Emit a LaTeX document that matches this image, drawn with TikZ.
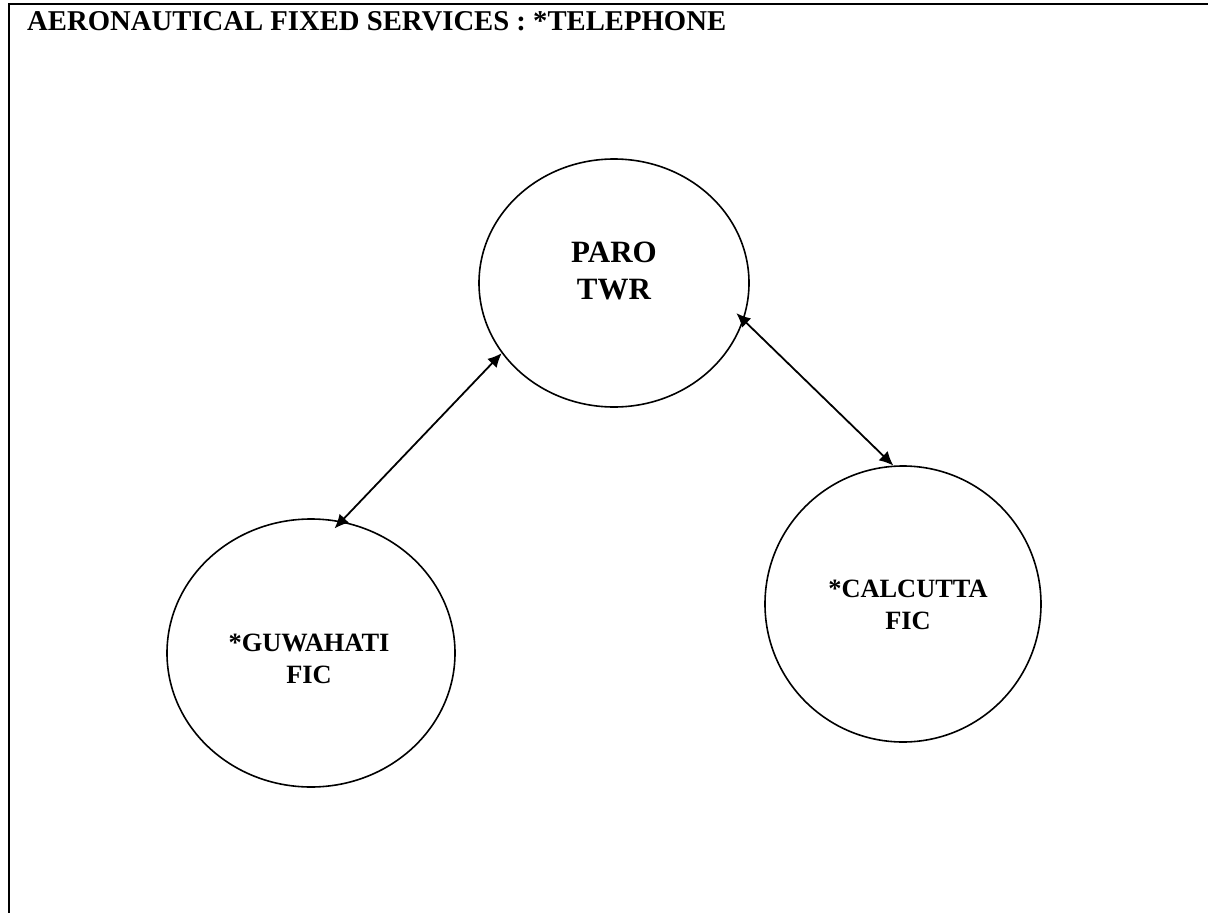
\documentclass[tikz,border=0pt]{standalone}
\usepackage{fontspec}
\setmainfont{Liberation Serif}
\usetikzlibrary{shapes.geometric,arrows.meta}
\begin{document}
\begin{tikzpicture}[x=1pt,y=-1pt,
  station/.style={draw,ellipse,line width=1.6pt,inner sep=0pt},
  lbl/.style={align=center,font=\bfseries\fontsize{26.4}{32}\selectfont},
  link/.style={{Latex[length=14pt,width=13pt]}-{Latex[length=14pt,width=13pt]},line width=1.8pt}]
\useasboundingbox (0,0) rectangle (1208,913);
\draw[line width=2pt] (9,913) -- (9,4) -- (1208,4);
\node[anchor=base west,inner sep=0pt,font=\bfseries\fontsize{28.7}{34}\selectfont] (title) at (27,30) {AERONAUTICAL FIXED SERVICES : *TELEPHONE};
\node[station,minimum width=270pt,minimum height=248pt] (paro) at (614,283) {};
\node[station,minimum width=288pt,minimum height=268pt] (guw) at (311,653) {};
\node[station,minimum width=276pt,minimum height=276pt] (cal) at (903,604) {};
\node[align=center,font=\bfseries\fontsize{31}{37}\selectfont] (parolbl) at (614,271) {PARO\\TWR};
\node[lbl] (guwlbl) at (309,659) {*GUWAHATI\\FIC};
\node[lbl] (callbl) at (908,605) {*CALCUTTA\\FIC};
\draw[link,shorten >=-10pt] (paro.212) -- (guw.77);
\draw[link,shorten <=-10pt] (paro.-16) -- (cal.94);
\end{tikzpicture}
\end{document}
